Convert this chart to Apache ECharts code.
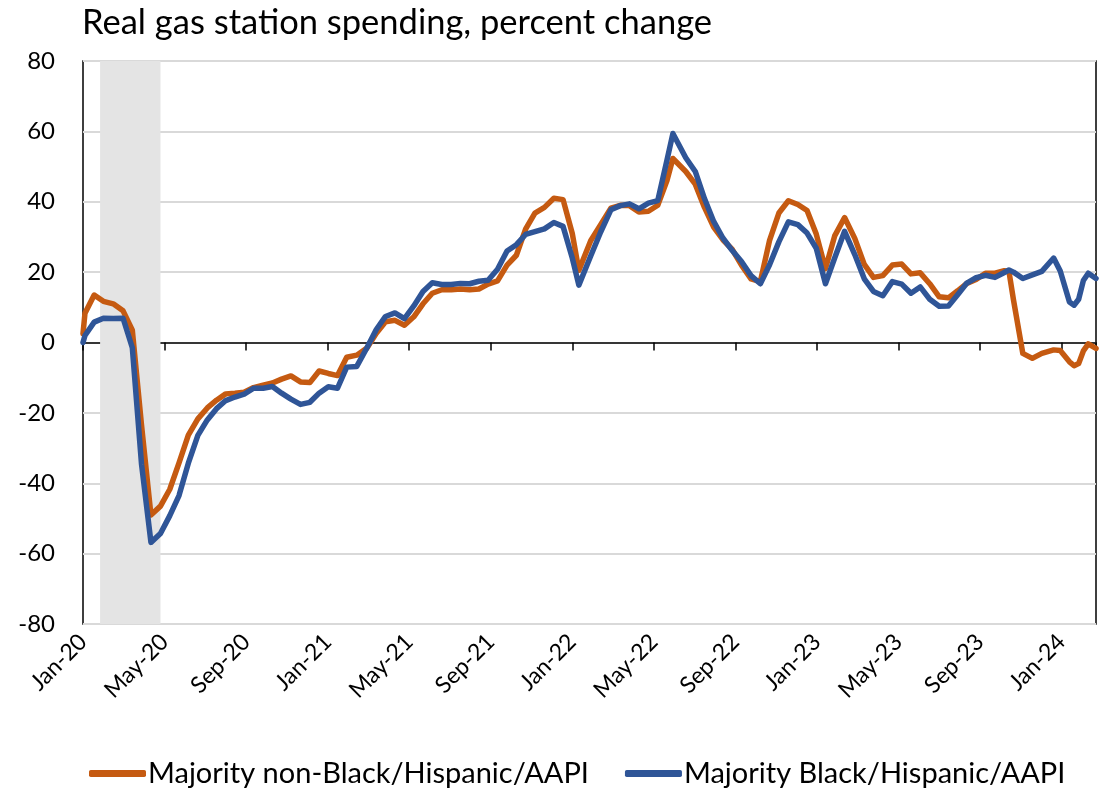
<!DOCTYPE html>
<html>
<head>
<meta charset="utf-8">
<script src="https://cdn.jsdelivr.net/npm/echarts@6/dist/echarts.min.js"></script>
<style>
  html, body { margin: 0; padding: 0; background: #fff; }
  #chart { width: 1110px; height: 796px; }
</style>
</head>
<body>
<div id="chart"></div>
<script>
const titleText = 'Real gas station spending, percent change';
const seriesNames = ['Majority non-Black/Hispanic/AAPI', 'Majority Black/Hispanic/AAPI'];
const tickLabels = ['Jan-20','May-20','Sep-20','Jan-21','May-21','Sep-21','Jan-22','May-22','Sep-22','Jan-23','May-23','Sep-23','Jan-24'];
const yTicks = { min: -80, max: 80, interval: 20 };
const recession = ['2020-01-27', '2020-04-25'];

const dates = [
"2020-01-01","2020-01-04","2020-01-18","2020-02-01","2020-02-15","2020-02-29","2020-03-14","2020-03-28","2020-04-11","2020-04-25",
"2020-05-09","2020-05-23","2020-06-06","2020-06-20","2020-07-04","2020-07-18","2020-08-01","2020-08-15","2020-08-29","2020-09-12",
"2020-09-26","2020-10-10","2020-10-24","2020-11-07","2020-11-21","2020-12-05","2020-12-19","2021-01-02","2021-01-16","2021-01-30",
"2021-02-13","2021-02-27","2021-03-13","2021-03-27","2021-04-10","2021-04-24","2021-05-08","2021-05-22","2021-06-05","2021-06-19",
"2021-07-03","2021-07-17","2021-07-31","2021-08-14","2021-08-28","2021-09-11","2021-09-25","2021-10-09","2021-10-23","2021-11-06",
"2021-11-20","2021-12-04","2021-12-18","2022-01-01","2022-01-11","2022-01-29","2022-02-12","2022-02-26","2022-03-12","2022-03-26",
"2022-04-09","2022-04-23","2022-05-07","2022-05-21","2022-05-30","2022-06-18","2022-07-02","2022-07-16","2022-07-30","2022-08-13",
"2022-08-27","2022-09-10","2022-09-24","2022-10-08","2022-10-22","2022-11-05","2022-11-19","2022-12-03","2022-12-17","2022-12-31",
"2023-01-14","2023-01-28","2023-02-11","2023-02-25","2023-03-11","2023-03-25","2023-04-08","2023-04-22","2023-05-06","2023-05-20",
"2023-06-03","2023-06-17","2023-07-01","2023-07-15","2023-07-29","2023-08-12","2023-08-26","2023-09-09","2023-09-23","2023-10-07",
"2023-10-14","2023-10-21","2023-11-04","2023-11-18","2023-12-02","2023-12-20","2023-12-30","2024-01-13","2024-01-20","2024-01-27",
"2024-02-03","2024-02-10","2024-02-21"
];

const nonMinority = [
2.5,8.3,13.5,11.7,11,9,3.5,-23.5,-49,-46.5,
-41.7,-34.2,-26.3,-21.7,-18.6,-16.4,-14.6,-14.4,-14.1,-12.8,
-12.1,-11.5,-10.4,-9.5,-11.2,-11.4,-8.1,-8.8,-9.4,-4.2,
-3.6,-1.6,2.6,5.9,6.3,4.9,7.3,11,14,15,
15,15.2,15,15.2,16.6,17.5,22,24.8,32.2,36.8,
38.4,41,40.6,31,20.5,28.9,33.5,38.2,39,38.9,
37.1,37.3,39,46,52.3,48.6,45,38.4,32.8,29.2,
26.5,22,18.1,17.3,29,36.8,40.3,39.2,37.5,30.8,
21,30.3,35.5,29.6,22.2,18.5,19,22,22.3,19.5,
19.8,16.7,13,12.7,14.7,16.8,17.9,19.7,19.7,20.4,
20.2,12,-3.1,-4.5,-3.1,-2.1,-2.3,-5.5,-6.6,-6,
-2.4,-0.4,-1.7
];

const minority = [
0,2,5.8,6.9,6.8,6.9,-1.5,-34.6,-56.8,-54.3,
-49.2,-43.5,-34.3,-26.4,-22,-18.8,-16.5,-15.5,-14.7,-13,
-13,-12.5,-14.4,-16.1,-17.6,-17,-14.4,-12.6,-13,-7,
-6.8,-1.5,3.7,7.4,8.4,6.8,10.4,14.5,17,16.5,
16.5,16.8,16.7,17.4,17.7,20.8,26,27.8,30.7,31.5,
32.3,34.1,33,24,16.3,24.6,31.4,37.7,38.9,39.4,
38,39.6,40.3,51.8,59.4,52.5,48.6,40.9,34.4,29.7,
26.2,23,19,16.7,22.1,28.6,34.3,33.5,31.1,26.8,
16.7,24,31.6,25,18.1,14.5,13.3,17.3,16.6,14,
15.8,12.3,10.3,10.4,13.6,16.9,18.4,19.1,18.5,19.9,
20.6,20,18.2,19.2,20.2,24,20.3,11.5,10.6,12.3,
17.6,19.7,18.2
];

// Convert a date to fractional months since Jan 2020 (axis unit).
function toMonths(s) {
  const [y, m, d] = s.split('-').map(Number);
  const dim = new Date(y, m, 0).getDate();
  return (y - 2020) * 12 + (m - 1) + (d - 1) / dim;
}
const xMax = toMonths(dates[dates.length - 1]);
const pairs = vals => dates.map((d, i) => [toMonths(d), vals[i]]);

const FONT = 'Lato';
const chart = echarts.init(document.getElementById('chart'), null, { renderer: 'canvas' });

const axisCommon = { type: 'value', min: 0, max: xMax, interval: 4 };

chart.setOption({
  backgroundColor: '#ffffff',
  animation: false,
  textStyle: { fontFamily: FONT, color: '#000' },
  title: {
    text: titleText,
    left: 77, top: 0,
    textStyle: { fontFamily: FONT, fontSize: 34.5, fontWeight: 'normal', color: '#000' }
  },
  grid: {
    left: 83, right: 14, top: 61, bottom: 172,
    show: true, borderColor: '#000', borderWidth: 1.5
  },
  legend: {
    bottom: 3, left: 84,
    icon: 'roundRect',
    itemWidth: 57, itemHeight: 7, itemGap: 36,
    textStyle: { fontFamily: FONT, fontSize: 29, color: '#000', padding: [0, 0, 0, -3] },
    data: seriesNames
  },
  xAxis: [
    Object.assign({}, axisCommon, {
      position: 'bottom',
      axisLine: { show: true, onZero: true, lineStyle: { color: '#000', width: 1.5 } },
      axisTick: { show: true, length: 8, inside: false, lineStyle: { color: '#000', width: 1.5 } },
      axisLabel: { show: false },
      splitLine: { show: false }
    }),
    Object.assign({}, axisCommon, {
      position: 'bottom',
      axisLine: { show: false, onZero: false },
      axisTick: { show: false },
      splitLine: { show: false },
      axisLabel: {
        show: true, rotate: 45, margin: 14,
        fontFamily: FONT, fontSize: 23, color: '#000',
        showMaxLabel: false,
        formatter: v => {
          const i = Math.round(v / 4);
          return Math.abs(v - i * 4) < 1e-6 && tickLabels[i] ? tickLabels[i] : '';
        }
      }
    })
  ],
  yAxis: {
    type: 'value', min: yTicks.min, max: yTicks.max, interval: yTicks.interval,
    axisLine: { show: false },
    axisTick: { show: false },
    axisLabel: { fontFamily: FONT, fontSize: 24, color: '#000', margin: 28 },
    splitLine: { show: true, lineStyle: { color: '#D9D9D9', width: 2 } }
  },
  series: [
    {
      name: seriesNames[0], type: 'line', xAxisIndex: 0,
      data: pairs(nonMinority),
      showSymbol: false, symbol: 'none',
      lineStyle: { color: '#C55A11', width: 5.5, join: 'round', cap: 'round' },
      itemStyle: { color: '#C55A11' },
      markArea: {
        silent: true,
        itemStyle: { color: '#E4E4E4' },
        data: [[{ xAxis: toMonths(recession[0]) }, { xAxis: toMonths(recession[1]) }]]
      },
      z: 3
    },
    {
      name: seriesNames[1], type: 'line', xAxisIndex: 0,
      data: pairs(minority),
      showSymbol: false, symbol: 'none',
      lineStyle: { color: '#2F5597', width: 5.5, join: 'round', cap: 'round' },
      itemStyle: { color: '#2F5597' },
      z: 4
    }
  ]
});
</script>
</body>
</html>
